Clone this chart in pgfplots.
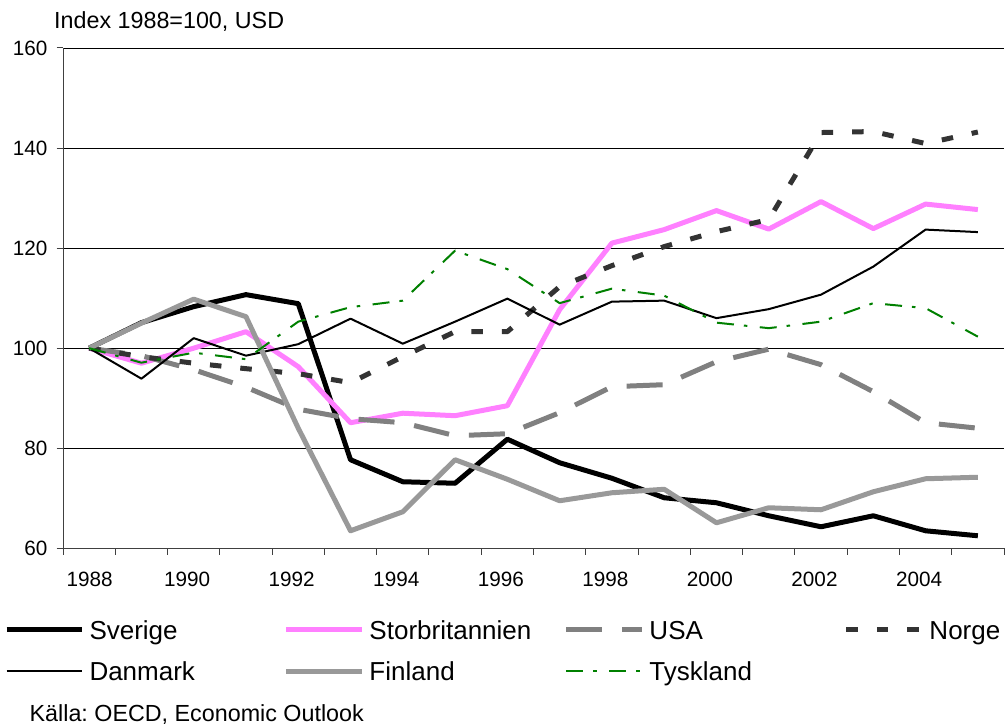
\documentclass[border=0pt]{standalone}
\usepackage{fontspec}
\setmainfont{Liberation Sans}
\usepackage{pgfplots}
\pgfplotsset{compat=1.18}
\definecolor{ukpink}{RGB}{255,128,255}
\definecolor{figray}{RGB}{153,153,153}
\definecolor{usgray}{RGB}{128,128,128}
\definecolor{nodark}{RGB}{51,51,51}
\definecolor{degreen}{RGB}{0,128,0}
\newcommand{\lgs}{\rule[-12pt]{0pt}{40pt}}
\begin{document}
\frenchspacing
\begin{tikzpicture}[x=1pt,y=1pt]
\useasboundingbox (0,0) rectangle (1007,727);
\node[anchor=base west, inner sep=0pt, font=\fontsize{23.3}{28}\selectfont] at (54,698) {Index 1988=100, USD};
\node[anchor=base west, inner sep=0pt, font=\fontsize{23.3}{28}\selectfont] at (29.5,5.5) {Källa: OECD, Economic Outlook};
\begin{axis}[
  at={(63pt,178.7pt)}, anchor=south west,
  scale only axis, width=941pt, height=500.3pt,
  xmin=0, xmax=18, ymin=60, ymax=160,
  axis lines*=left,
  axis line style={draw=black!75, line width=1pt},
  xtick={0,...,18}, xticklabels={},
  extra x ticks={0.51,2.375,4.375,6.375,8.375,10.375,12.375,14.375,16.375},
  extra x tick labels={1988,1990,1992,1994,1996,1998,2000,2002,2004},
  extra x tick style={major tick length=0pt},
  xticklabel style={font=\fontsize{20.7}{24}\selectfont, inner sep=0pt, anchor=north, yshift=-24pt},
  ytick={60,80,...,160},
  yticklabel style={font=\fontsize{20.7}{24}\selectfont, inner sep=0pt, anchor=east, xshift=-9pt},
  /pgf/number format/assume math mode=true,
  ymajorgrids, grid style={black, line width=0.9pt},
  tick align=outside, major tick length=6.5pt,
  tick style={black!75, line width=1pt},
  legend image code/.code={\draw[#1] (0pt,9.3pt) -- (75pt,9.3pt);},
  legend style={at={(-0.0627,-0.1259)}, anchor=north west, draw=none, fill=none,
    inner sep=0pt, outer sep=0pt, legend columns=4,
    font=\fontsize{26}{40}\selectfont, row sep=12pt, column sep=5.5pt,
    nodes={inner sep=0pt, outer sep=0pt}, cells={anchor=base west}},
  every axis plot/.append style={mark=none, line join=round},
]
\addplot[black, line width=5pt] coordinates {
(0.5,100) (1.5,105.1) (2.5,108.3) (3.5,110.7) (4.5,108.9) (5.5,77.7) (6.5,73.3) (7.5,73.0) (8.5,81.8)
(9.5,77.1) (10.5,74.0) (11.5,70.1) (12.5,69.1) (13.5,66.5) (14.5,64.3) (15.5,66.5) (16.5,63.5) (17.5,62.5)};
\addlegendentry{\makebox[189pt][l]{\lgs Sverige}}
\addplot[ukpink, line width=5pt] coordinates {
(0.5,100) (1.5,97.0) (2.5,100.0) (3.5,103.3) (4.5,96.3) (5.5,85.1) (6.5,87.0) (7.5,86.5) (8.5,88.5)
(9.5,107.7) (10.5,121.0) (11.5,123.7) (12.5,127.5) (13.5,123.8) (14.5,129.3) (15.5,123.9) (16.5,128.8) (17.5,127.7)};
\addlegendentry{\makebox[189pt][l]{\lgs Storbritannien}}
\addplot[usgray, line width=5pt, dash pattern=on 36pt off 20pt] coordinates {
(0.5,100) (1.5,98.5) (2.5,95.7) (3.5,92.2) (4.5,87.8) (5.5,85.9) (6.5,85.1) (7.5,82.5) (8.5,82.9)
(9.5,87.1) (10.5,92.3) (11.5,92.7) (12.5,97.3) (13.5,99.8) (14.5,96.7) (15.5,91.3) (16.5,85.1) (17.5,84.0)};
\addlegendentry{\makebox[189pt][l]{\lgs USA}}
\addplot[nodark, line width=5pt, dash pattern=on 11.5pt off 19pt] coordinates {
(0.5,100) (1.5,98.3) (2.5,97.0) (3.5,95.9) (4.5,94.9) (5.5,93.1) (6.5,98.3) (7.5,103.3) (8.5,103.3)
(9.5,112.3) (10.5,116.5) (11.5,120.3) (12.5,123.3) (13.5,125.7) (14.5,143.1) (15.5,143.3) (16.5,140.9) (17.5,143.2)};
\addlegendentry{\makebox[189pt][l]{\lgs Norge}}
\addplot[black, line width=2pt] coordinates {
(0.5,100) (1.5,93.9) (2.5,102.0) (3.5,98.5) (4.5,100.8) (5.5,105.9) (6.5,100.9) (7.5,105.3) (8.5,109.9)
(9.5,104.7) (10.5,109.3) (11.5,109.5) (12.5,106.0) (13.5,107.8) (14.5,110.7) (15.5,116.3) (16.5,123.7) (17.5,123.2)};
\addlegendentry{\makebox[189pt][l]{\lgs Danmark}}
\addplot[figray, line width=5pt] coordinates {
(0.5,100) (1.5,105.0) (2.5,109.8) (3.5,106.3) (4.5,84.0) (5.5,63.5) (6.5,67.3) (7.5,77.7) (8.5,73.8)
(9.5,69.5) (10.5,71.1) (11.5,71.8) (12.5,65.1) (13.5,68.1) (14.5,67.7) (15.5,71.3) (16.5,73.9) (17.5,74.2)};
\addlegendentry{\makebox[189pt][l]{\lgs Finland}}
\addplot[degreen, line width=2pt, dash pattern=on 17pt off 10pt on 3.5pt off 12.5pt] coordinates {
(0.5,100) (1.5,97.1) (2.5,99.1) (3.5,97.8) (4.5,105.3) (5.5,108.2) (6.5,109.5) (7.5,119.5) (8.5,115.8)
(9.5,109.0) (10.5,111.9) (11.5,110.5) (12.5,105.1) (13.5,104.0) (14.5,105.3) (15.5,109.0) (16.5,108.0) (17.5,102.3)};
\addlegendentry{\makebox[189pt][l]{\lgs Tyskland}}
\end{axis}
\end{tikzpicture}
\end{document}
